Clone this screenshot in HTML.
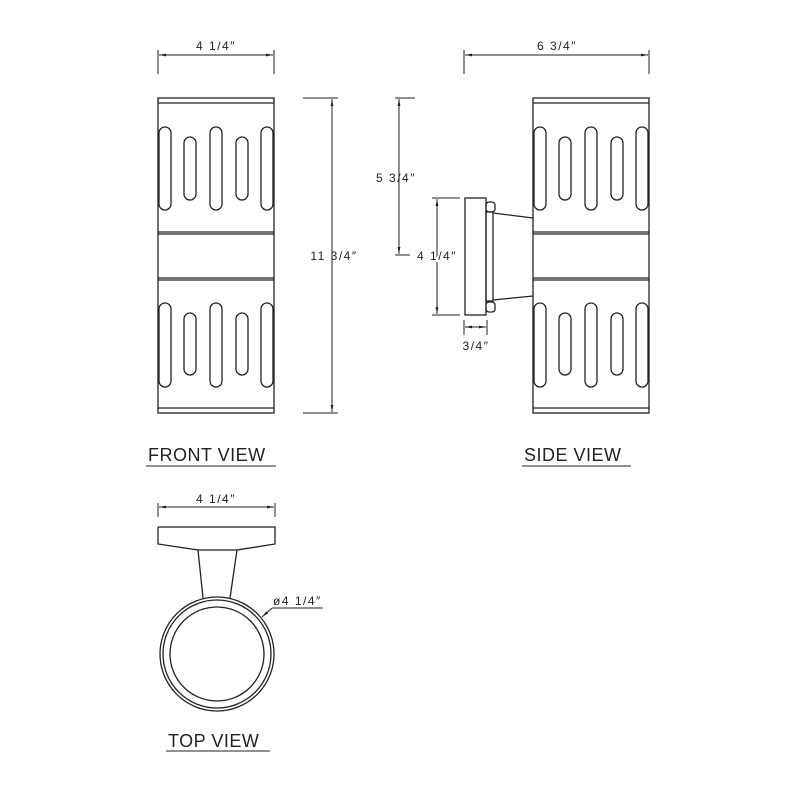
<!DOCTYPE html>
<html><head><meta charset="utf-8"><style>html,body{margin:0;padding:0;background:#fff}svg{display:block}text{font-family:"Liberation Sans",sans-serif;fill:#222}</style></head>
<body>
<svg width="800" height="800" viewBox="0 0 800 800" xmlns="http://www.w3.org/2000/svg">
<defs>
<g id="lamp" fill="none" stroke="#222" stroke-width="1.3">
  <rect x="0" y="0" width="116" height="315"/>
  <line x1="0" y1="5" x2="116" y2="5"/>
  <line x1="0" y1="134" x2="116" y2="134"/>
  <line x1="0" y1="136" x2="116" y2="136"/>
  <line x1="0" y1="180" x2="116" y2="180"/>
  <line x1="0" y1="182" x2="116" y2="182"/>
  <line x1="0" y1="310" x2="116" y2="310"/>
  <rect x="1" y="29" width="12" height="83" rx="6"/>
  <rect x="26" y="39" width="12" height="63" rx="6"/>
  <rect x="52" y="29" width="12" height="83" rx="6"/>
  <rect x="78" y="39" width="12" height="63" rx="6"/>
  <rect x="103" y="29" width="12" height="83" rx="6"/>
  <rect x="1" y="205" width="12" height="84" rx="6"/>
  <rect x="26" y="215" width="12" height="62" rx="6"/>
  <rect x="52" y="205" width="12" height="84" rx="6"/>
  <rect x="78" y="215" width="12" height="62" rx="6"/>
  <rect x="103" y="205" width="12" height="84" rx="6"/>
</g>
<marker id="ar" viewBox="0 0 10 10" refX="10" refY="5" markerWidth="7" markerHeight="7" orient="auto-start-reverse"><path d="M0,3 L10,5 L0,7 z" fill="#222"/></marker>
</defs>
<use href="#lamp" x="158" y="98"/>
<use href="#lamp" x="533" y="98"/>
<g fill="none" stroke="#222" stroke-width="1">
  <line x1="158" y1="50" x2="158" y2="74"/><line x1="274" y1="50" x2="274" y2="74"/>
  <line x1="159" y1="55" x2="273" y2="55" marker-start="url(#ar)" marker-end="url(#ar)"/>
  <line x1="303" y1="98" x2="338" y2="98"/><line x1="303" y1="413" x2="338" y2="413"/>
  <line x1="332" y1="99" x2="332" y2="412" marker-start="url(#ar)" marker-end="url(#ar)"/>
  <line x1="464" y1="50" x2="464" y2="74"/><line x1="649" y1="50" x2="649" y2="74"/>
  <line x1="465" y1="55" x2="648" y2="55" marker-start="url(#ar)" marker-end="url(#ar)"/>
  <line x1="395" y1="98" x2="415" y2="98"/><line x1="395" y1="255" x2="410" y2="255"/>
  <line x1="399" y1="99" x2="399" y2="254" marker-start="url(#ar)" marker-end="url(#ar)"/>
  <line x1="432" y1="198" x2="460" y2="198"/><line x1="432" y1="315" x2="460" y2="315"/>
  <line x1="437" y1="199" x2="437" y2="314" marker-start="url(#ar)" marker-end="url(#ar)"/>
  <line x1="464" y1="320" x2="464" y2="335"/><line x1="487" y1="320" x2="487" y2="335"/>
  <line x1="465" y1="327" x2="486" y2="327" marker-start="url(#ar)" marker-end="url(#ar)"/>
  <g stroke-width="1.3">
  <rect x="465" y="198" width="21" height="117"/>
  <rect x="486" y="212" width="7" height="89"/>
  <rect x="486" y="202" width="9" height="10" rx="3"/>
  <rect x="486" y="302" width="9" height="10" rx="3"/>
  <line x1="493" y1="213" x2="533" y2="218"/>
  <line x1="493" y1="300" x2="533" y2="296"/>
  </g>
  <line x1="158" y1="503" x2="158" y2="517"/><line x1="275" y1="503" x2="275" y2="517"/>
  <line x1="159" y1="507" x2="274" y2="507" marker-start="url(#ar)" marker-end="url(#ar)"/>
  <g stroke-width="1.3">
  <path d="M158,527 H275 V544 L237,550 L230,598 M158,527 V544 L198,550 L203,598 M198,550 H237"/>
  <circle cx="217" cy="654" r="57"/>
  <circle cx="217" cy="654" r="54"/>
  <circle cx="217" cy="654" r="47"/>
  </g>
  <line x1="262" y1="617" x2="272" y2="608" marker-start="url(#ar)"/>
  <line x1="272" y1="608" x2="323" y2="608"/>
  <line x1="146" y1="466" x2="276" y2="466"/>
  <line x1="522" y1="466" x2="631" y2="466"/>
  <line x1="166" y1="751" x2="270" y2="751"/>
</g>
<g font-size="12" letter-spacing="1.5">
  <text x="216" y="50" text-anchor="middle">4  1/4″</text>
  <text x="334" y="260" text-anchor="middle">11  3/4″</text>
  <text x="557" y="50" text-anchor="middle">6  3/4″</text>
  <text x="396" y="182" text-anchor="middle">5  3/4″</text>
  <text x="437" y="260" text-anchor="middle" style="paint-order:stroke" stroke="#fff" stroke-width="4">4  1/4″</text>
  <text x="476" y="350" text-anchor="middle">3/4″</text>
  <text x="216" y="503" text-anchor="middle">4  1/4″</text>
  <text x="273" y="605">ø4  1/4″</text>
</g>
<g font-size="18" letter-spacing="0.5">
  <text x="148" y="461">FRONT  VIEW</text>
  <text x="524" y="461">SIDE  VIEW</text>
  <text x="168" y="747">TOP  VIEW</text>
</g>
</svg>
</body></html>
